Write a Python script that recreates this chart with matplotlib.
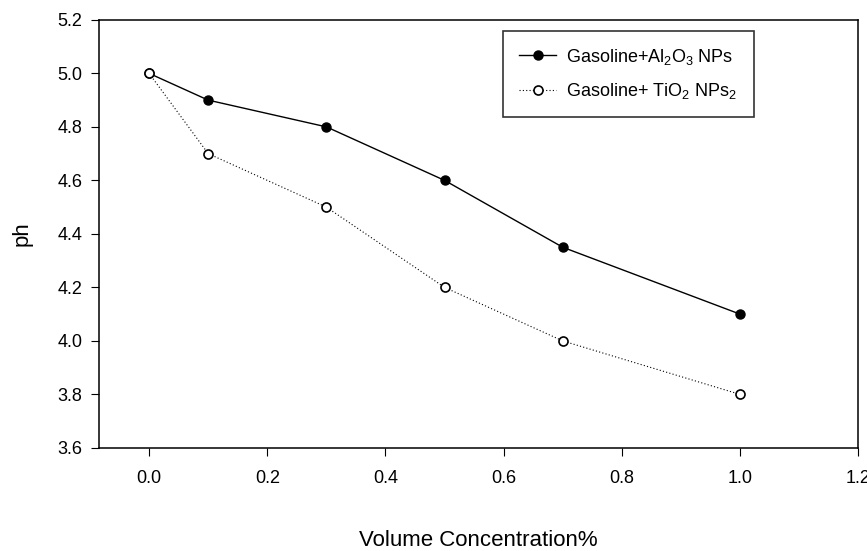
import matplotlib
matplotlib.use("Agg")
from matplotlib import pyplot as plt

plt.rcParams['font.family'] = ['Liberation Sans', 'DejaVu Sans']
plt.rcParams['mathtext.fontset'] = 'custom'
plt.rcParams['mathtext.rm'] = 'Liberation Sans'
plt.rcParams['mathtext.it'] = 'Liberation Sans'

conc = [0.0, 0.1, 0.3, 0.5, 0.7, 1.0]
ph_al2o3 = [5.0, 4.9, 4.8, 4.6, 4.35, 4.1]
ph_tio2 = [5.0, 4.7, 4.5, 4.2, 4.0, 3.8]

xticks = [0.0, 0.2, 0.4, 0.6, 0.8, 1.0, 1.2]
yticks = [3.6, 3.8, 4.0, 4.2, 4.4, 4.6, 4.8, 5.0, 5.2]

fig = plt.figure(figsize=(8.67, 5.51), dpi=100)
ax = fig.add_axes([0.114, 0.187, 0.876, 0.777])

ax.plot(conc, ph_al2o3, color="black", lw=1, marker="o", ms=6.5,
        mfc="black", mec="black", label="Gasoline+Al$_2$O$_3$ NPs")
ax.plot(conc, ph_tio2, color="black", lw=0.8, ls=(0, (1, 2)), marker="o", ms=6.5,
        mfc="white", mec="black", mew=1.2, label="Gasoline+ TiO$_2$ NPs$_2$")

ax.set_xlim(-0.085, 1.2)
ax.set_ylim(3.6, 5.2)
ax.set_xticks(xticks)
ax.set_xticklabels(["%.1f" % v for v in xticks])
ax.set_yticks(yticks)
ax.set_yticklabels(["%.1f" % v for v in yticks])
ax.tick_params(direction="out", length=6, labelsize=13, top=False, right=False)
ax.tick_params(axis="x", pad=10)
ax.tick_params(axis="y", pad=6)
for s in ax.spines.values():
    s.set_linewidth(1.1)

ax.set_xlabel("Volume Concentration%", fontsize=16, labelpad=31)
ax.set_ylabel("ph", fontsize=16, labelpad=18)

leg = ax.legend(loc="upper right", bbox_to_anchor=(0.862, 0.975), fontsize=13,
                frameon=True, fancybox=False, edgecolor="black",
                handlelength=2.0, handletextpad=0.6, borderpad=0.9,
                labelspacing=0.8, borderaxespad=0)
leg.get_frame().set_linewidth(1.2)

fig.savefig("out.png", dpi=100)
